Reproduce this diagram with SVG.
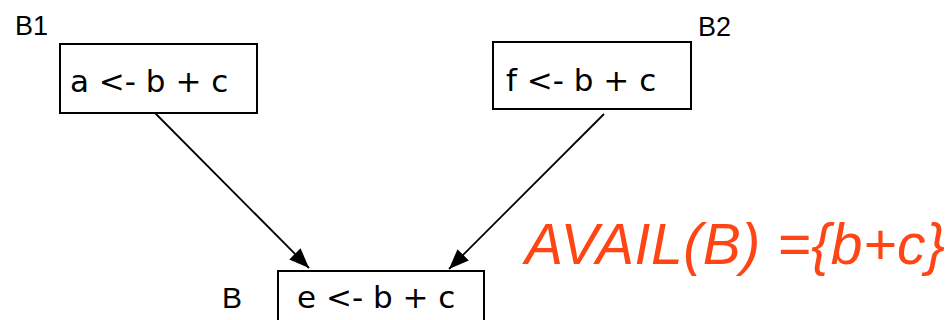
<svg xmlns="http://www.w3.org/2000/svg" width="950" height="320" viewBox="0 0 950 320">
  <style>
    .box { fill: #fff; stroke: #000; stroke-width: 2; }
    .code { font-family: "DejaVu Sans", Verdana, sans-serif; font-size: 31px; fill: #000; }
    .lbl { font-family: "Liberation Sans", Arial, sans-serif; font-size: 27px; fill: #000; }
    .edge { stroke: #000; stroke-width: 1.8; fill: none; marker-end: url(#arr); }
    .avail { font-family: "Liberation Sans", Arial, sans-serif; font-style: italic; font-size: 57px; fill: #FF4514; }
  </style>
  <defs>
    <marker id="arr" markerWidth="20" markerHeight="16" refX="20" refY="8" orient="auto" markerUnits="userSpaceOnUse">
      <path d="M0,0 L20,8 L0,16 Z" fill="#000"/>
    </marker>
  </defs>
  <rect width="950" height="320" fill="#fff"/>
  <g id="connectors">
    <line class="edge" x1="155" y1="113" x2="309" y2="268"/>
    <line class="edge" x1="604" y1="114" x2="449" y2="269"/>
  </g>
  <g id="B1">
    <rect class="box" x="60" y="44" width="197" height="69"/>
    <text class="code" x="70" y="92">a &lt;- b + c</text>
    <text class="lbl" x="15" y="35">B1</text>
  </g>
  <g id="B2">
    <rect class="box" x="493" y="42" width="198" height="67"/>
    <text class="code" x="506" y="91">f &lt;- b + c</text>
    <text class="lbl" x="698" y="36">B2</text>
  </g>
  <g id="B">
    <rect class="box" x="278" y="271" width="206" height="70"/>
    <text class="code" x="297" y="308">e &lt;- b + c</text>
    <text class="lbl" x="222" y="308" style="font-size:30px">B</text>
  </g>
  <text class="avail" x="525" y="264" textLength="420" lengthAdjust="spacing">AVAIL(B) ={b+c}</text>
</svg>
